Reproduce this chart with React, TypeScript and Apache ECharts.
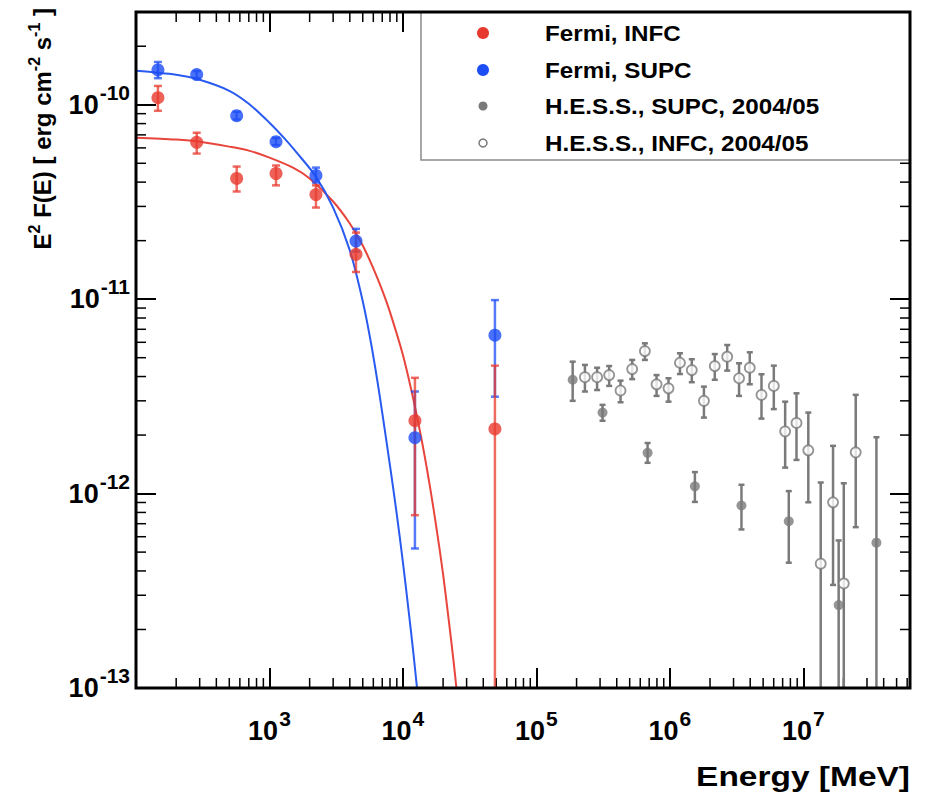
import React, { useEffect, useRef } from "react";
import * as echarts from "echarts";

// ---- axis ranges ----
const X_MIN = 100;
const X_MAX = 6.3e7;
const Y_MIN = 1e-13;
const Y_MAX = 3e-10;
const BELOW_AXIS = 1e-14; // lower error limit that runs down to the axis

// ---- minor tick definitions ----
const minorMultipliers = [2, 3, 4, 5, 6, 7, 8, 9];
const xMinorDecades = [1e2, 1e3, 1e4, 1e5, 1e6, 1e7];
const yMinorDecades = [1e-13, 1e-12, 1e-11, 1e-10];

// ---- Fermi data ----
const fermiE = [146, 285, 568, 1120, 2230, 4450, 12300, 48900];
const fermiInfcF = [1.087e-10, 6.41e-11, 4.18e-11, 4.43e-11, 3.45e-11, 1.7e-11, 2.37e-12, 2.15e-12];
const fermiInfcLo = [9.31e-11, 5.61e-11, 3.58e-11, 3.85e-11, 2.96e-11, 1.38e-11, 7.74e-13, BELOW_AXIS];
const fermiInfcHi = [1.25e-10, 7.18e-11, 4.81e-11, 4.87e-11, 3.85e-11, 2.2e-11, 3.94e-12, 4.55e-12];
const fermiSupcF = [1.51e-10, 1.43e-10, 8.78e-11, 6.46e-11, 4.33e-11, 1.99e-11, 1.94e-12, 6.53e-12];
const fermiSupcLo = [1.37e-10, 1.37e-10, 8.4e-11, 6.2e-11, 3.98e-11, 1.76e-11, 5.22e-13, 3.15e-12];
const fermiSupcHi = [1.66e-10, 1.49e-10, 9.2e-11, 6.75e-11, 4.75e-11, 2.3e-11, 3.35e-12, 9.89e-12];

// ---- fitted curves ----
const infcCurveE = [100, 200, 300, 500, 700, 1000, 1500, 2000, 3000, 4000, 5000, 6000, 7000, 8000, 10000, 12000, 14000, 16000, 18000, 20000, 22000, 24000, 25500];
const infcCurveF = [6.77e-11, 6.62e-11, 6.46e-11, 6.09e-11, 5.81e-11, 5.35e-11, 4.75e-11, 4.18e-11, 3.18e-11, 2.45e-11, 1.89e-11, 1.44e-11, 1.11e-11, 8.58e-12, 5.16e-12, 3.03e-12, 1.8e-12, 1.07e-12, 6.38e-13, 3.84e-13, 2.26e-13, 1.36e-13, 9.1e-14];
const supcCurveE = [100, 200, 300, 500, 700, 1000, 1300, 1600, 2200, 3000, 4000, 5000, 5800, 6700, 8000, 9000, 10000, 11000, 12000, 13000];
const supcCurveF = [1.494e-10, 1.425e-10, 1.344e-10, 1.18e-10, 1.012e-10, 8.08e-11, 6.69e-11, 5.67e-11, 4.32e-11, 2.96e-11, 1.783e-11, 9.76e-12, 5.81e-12, 3.18e-12, 1.392e-12, 7.8e-13, 4.43e-13, 2.54e-13, 1.494e-13, 8.78e-14];

// ---- H.E.S.S. SUPC (filled) ----
const hessSupcE = [1.87e5, 3.13e5, 6.81e5, 1.54e6, 3.44e6, 7.78e6, 1.84e7, 3.53e7];
const hessSupcF = [3.85e-12, 2.61e-12, 1.62e-12, 1.09e-12, 8.68e-13, 7.21e-13, 2.67e-13, 5.59e-13];
const hessSupcLo = [3.0e-12, 2.37e-12, 1.44e-12, 9.06e-13, 6.54e-13, 4.41e-13, BELOW_AXIS, BELOW_AXIS];
const hessSupcHi = [4.77e-12, 2.86e-12, 1.82e-12, 1.29e-12, 1.11e-12, 1.03e-12, 5.74e-13, 1.95e-12];

// ---- H.E.S.S. INFC (open) ----
const hessInfcE = [2.31e5, 2.85e5, 3.51e5, 4.27e5, 5.22e5, 6.5e5, 7.95e5, 9.77e5, 1.19e6, 1.46e6, 1.8e6, 2.17e6, 2.69e6, 3.3e6, 3.97e6, 4.86e6, 6.01e6, 7.31e6, 8.89e6, 1.09e7, 1.35e7, 1.67e7, 2.01e7, 2.47e7];
const hessInfcF = [3.97e-12, 3.97e-12, 4.07e-12, 3.39e-12, 4.37e-12, 5.41e-12, 3.65e-12, 3.48e-12, 4.71e-12, 4.32e-12, 3.0e-12, 4.53e-12, 5.06e-12, 3.92e-12, 4.44e-12, 3.22e-12, 3.58e-12, 2.09e-12, 2.31e-12, 1.67e-12, 4.36e-13, 9.02e-13, 3.45e-13, 1.63e-12];
const hessInfcLo = [3.35e-12, 3.41e-12, 3.58e-12, 2.95e-12, 3.88e-12, 4.87e-12, 3.18e-12, 2.97e-12, 4.12e-12, 3.74e-12, 2.46e-12, 3.85e-12, 4.29e-12, 3.18e-12, 3.65e-12, 2.43e-12, 2.72e-12, 1.36e-12, 1.49e-12, 9.02e-13, BELOW_AXIS, 3.39e-13, BELOW_AXIS, 6.72e-13];
const hessInfcHi = [4.59e-12, 4.44e-12, 4.53e-12, 3.81e-12, 4.87e-12, 5.93e-12, 4.07e-12, 3.92e-12, 5.27e-12, 4.91e-12, 3.55e-12, 5.22e-12, 5.81e-12, 4.68e-12, 5.33e-12, 4.11e-12, 4.55e-12, 2.97e-12, 3.28e-12, 2.61e-12, 1.14e-12, 1.76e-12, 1.13e-12, 3.22e-12];

// ---- legend ----
const legendLabels = ["Fermi, INFC", "Fermi, SUPC", "H.E.S.S., SUPC, 2004/05", "H.E.S.S., INFC, 2004/05"];

const RED = "#e8392e";
const BLUE = "#1d4ef5";
const FONT = "Liberation Sans, Arial, Helvetica, sans-serif";

function minorTicks(decades: number[], lo: number, hi: number) {
  const out: number[] = [];
  decades.forEach((d) => minorMultipliers.forEach((m) => {
    const v = m * d;
    if (v > lo * 1.0001 && v < hi * 0.9999) out.push(v);
  }));
  return out;
}

function errorBars(E: number[], F: number[], lo: number[], hi: number[], color: string, width: number, cap: number, z: number) {
  return {
    type: "custom",
    xAxisIndex: 0,
    yAxisIndex: 0,
    z,
    silent: true,
    encode: { x: 0, y: 1 },
    data: E.map((e, i) => [e, F[i], lo[i], hi[i]]),
    renderItem: (params: any, api: any) => {
      const cs = params.coordSys;
      const bottom = cs.y + cs.height;
      const top = cs.y;
      const x = api.value(0);
      const pHi = api.coord([x, api.value(3)]);
      const pLo = api.coord([x, api.value(2)]);
      const px = pHi[0];
      let yHi = pHi[1];
      let yLo = pLo[1];
      let capLo = true;
      let capHi = true;
      if (yLo > bottom) { yLo = bottom; capLo = false; }
      if (yHi < top) { yHi = top; capHi = false; }
      const style = { stroke: color, lineWidth: width };
      const children: any[] = [{ type: "line", shape: { x1: px, y1: yHi, x2: px, y2: yLo }, style }];
      if (capHi) children.push({ type: "line", shape: { x1: px - cap, y1: yHi, x2: px + cap, y2: yHi }, style });
      if (capLo) children.push({ type: "line", shape: { x1: px - cap, y1: yLo, x2: px + cap, y2: yLo }, style });
      return { type: "group", children };
    },
  };
}

const labelRich = {
  b: { fontSize: 27, fontWeight: "bold", fontFamily: FONT, color: "#000" },
  s: { fontSize: 21, fontWeight: "bold", fontFamily: FONT, color: "#000", padding: [0, 0, 25, 1] },
};

const titleRich = {
  b: { fontSize: 24, fontWeight: "bold", fontFamily: FONT, fill: "#000" },
  s: { fontSize: 16, fontWeight: "bold", fontFamily: FONT, fill: "#000", padding: [0, 0, 16, 0] },
};

export default function App() {
  const ref = useRef<HTMLDivElement>(null);

  useEffect(() => {
    if (!ref.current) return;
    const chart = echarts.init(ref.current, undefined, { renderer: "svg" });

    const xMinor = minorTicks(xMinorDecades, X_MIN, X_MAX);
    const yMinor = minorTicks(yMinorDecades, Y_MIN, Y_MAX);

    const tickStyle = { color: "#000", width: 2 };
    const logFmt = (v: number) => `{b|10}{s|${Math.round(Math.log10(v))}}`;

    const gridL = 136, gridT = 12, gridW = 774, gridH = 676;

    const option: any = {
      animation: false,
      backgroundColor: "#fff",
      grid: { left: gridL, top: gridT, width: gridW, height: gridH, show: false },
      xAxis: [
        {
          type: "log", logBase: 10, min: X_MIN, max: X_MAX, position: "bottom",
          axisLine: { show: false }, splitLine: { show: false },
          axisTick: { inside: true, length: 20, lineStyle: tickStyle },
          axisLabel: { showMinLabel: false, showMaxLabel: false, margin: 20, formatter: logFmt, rich: labelRich },
        },
        {
          type: "log", logBase: 10, min: X_MIN, max: X_MAX, position: "top",
          axisLine: { show: false }, splitLine: { show: false },
          axisTick: { inside: true, length: 20, lineStyle: tickStyle },
          axisLabel: { show: false },
        },
      ],
      yAxis: [
        {
          type: "log", logBase: 10, min: Y_MIN, max: Y_MAX, position: "left",
          axisLine: { show: false }, splitLine: { show: false },
          axisTick: { inside: true, length: 20, lineStyle: tickStyle },
          axisLabel: { showMinLabel: true, showMaxLabel: false, margin: 6, formatter: logFmt, rich: labelRich },
        },
        {
          type: "log", logBase: 10, min: Y_MIN, max: Y_MAX, position: "right",
          axisLine: { show: false }, splitLine: { show: false },
          axisTick: { inside: true, length: 20, lineStyle: tickStyle },
          axisLabel: { show: false },
        },
      ],
      series: [
        {
          type: "custom", z: 1, silent: true,
          data: xMinor.map((v) => [v, Y_MIN]),
          encode: { x: 0, y: 1 },
          renderItem: (params: any, api: any) => {
            const cs = params.coordSys;
            const p = api.coord([api.value(0), Y_MIN]);
            const st = { stroke: "#000", lineWidth: 1.5 };
            return {
              type: "group", children: [
                { type: "line", shape: { x1: p[0], y1: cs.y + cs.height, x2: p[0], y2: cs.y + cs.height - 10 }, style: st },
                { type: "line", shape: { x1: p[0], y1: cs.y, x2: p[0], y2: cs.y + 10 }, style: st },
              ],
            };
          },
        },
        {
          type: "custom", z: 1, silent: true,
          data: yMinor.map((v) => [X_MIN, v]),
          encode: { x: 0, y: 1 },
          renderItem: (params: any, api: any) => {
            const cs = params.coordSys;
            const p = api.coord([X_MIN, api.value(1)]);
            const st = { stroke: "#000", lineWidth: 1.5 };
            return {
              type: "group", children: [
                { type: "line", shape: { x1: cs.x, y1: p[1], x2: cs.x + 10, y2: p[1] }, style: st },
                { type: "line", shape: { x1: cs.x + cs.width, y1: p[1], x2: cs.x + cs.width - 10, y2: p[1] }, style: st },
              ],
            };
          },
        },
        {
          type: "line", z: 2, silent: true, smooth: 0.3, showSymbol: false, symbol: "none",
          data: infcCurveE.map((e, i) => [e, infcCurveF[i]]),
          lineStyle: { color: "#e8453c", width: 2 },
        },
        {
          type: "line", z: 2, silent: true, smooth: 0.3, showSymbol: false, symbol: "none",
          data: supcCurveE.map((e, i) => [e, supcCurveF[i]]),
          lineStyle: { color: "#2a5bf0", width: 2 },
        },
        errorBars(fermiE, fermiSupcF, fermiSupcLo, fermiSupcHi, "rgba(29,78,245,0.75)", 2.5, 4, 3),
        errorBars(fermiE, fermiInfcF, fermiInfcLo, fermiInfcHi, "rgba(232,57,46,0.75)", 2.5, 4, 3),
        errorBars(hessSupcE, hessSupcF, hessSupcLo, hessSupcHi, "#7a7a7a", 2.5, 3, 3),
        errorBars(hessInfcE, hessInfcF, hessInfcLo, hessInfcHi, "#7a7a7a", 2.5, 3, 3),
        {
          type: "scatter", z: 4, silent: true, symbol: "circle", symbolSize: 10,
          data: hessSupcE.map((e, i) => [e, hessSupcF[i]]),
          itemStyle: { color: "#7a7a7a" },
        },
        {
          type: "scatter", z: 4, silent: true, symbol: "circle", symbolSize: 10,
          data: hessInfcE.map((e, i) => [e, hessInfcF[i]]),
          itemStyle: { color: "#fff", borderColor: "#7a7a7a", borderWidth: 1.8 },
        },
        {
          type: "scatter", z: 5, silent: true, symbol: "circle", symbolSize: 13,
          data: fermiE.map((e, i) => [e, fermiSupcF[i]]),
          itemStyle: { color: BLUE },
        },
        {
          type: "scatter", z: 5, silent: true, symbol: "circle", symbolSize: 13,
          data: fermiE.map((e, i) => [e, fermiInfcF[i]]),
          itemStyle: { color: RED },
        },
      ],
      graphic: [
        // legend box
        { type: "rect", z: 50, silent: true, shape: { x: 421, y: 12, width: 489, height: 148 }, style: { fill: "#fff", stroke: "#8a8a8a", lineWidth: 1.5 } },
        { type: "circle", z: 51, silent: true, shape: { cx: 483, cy: 33, r: 6 }, style: { fill: RED } },
        { type: "circle", z: 51, silent: true, shape: { cx: 483, cy: 70, r: 6 }, style: { fill: BLUE } },
        { type: "circle", z: 51, silent: true, shape: { cx: 483, cy: 106, r: 4.5 }, style: { fill: "#7a7a7a" } },
        { type: "circle", z: 51, silent: true, shape: { cx: 483, cy: 143, r: 4 }, style: { fill: "#fff", stroke: "#7a7a7a", lineWidth: 1.5 } },
        ...legendLabels.map((t, i) => ({
          type: "text", z: 51, silent: true, x: 545, y: [33, 70, 106, 143][i], scaleX: 1.1,
          style: { text: t, fontSize: 22, fontWeight: "bold", fontFamily: FONT, fill: "#000", align: "left", verticalAlign: "middle" },
        })),
        // frame
        { type: "rect", z: 60, silent: true, shape: { x: gridL, y: gridT, width: gridW, height: gridH }, style: { fill: "none", stroke: "#000", lineWidth: 3 } },
        // axis titles
        {
          type: "text", z: 60, silent: true, x: 910, y: 776, scaleX: 1.24,
          style: { text: "Energy [MeV]", fontSize: 27, fontWeight: "bold", fontFamily: FONT, fill: "#000", align: "right", verticalAlign: "middle" },
        },
        {
          type: "text", z: 60, silent: true, x: 42, y: 8, rotation: Math.PI / 2,
          style: {
            text: "{b|E}{s|2}{b| F(E) [ erg cm}{s|-2}{b| s}{s|-1}{b| ]}",
            rich: titleRich, align: "right", verticalAlign: "middle", fontFamily: FONT, fontWeight: "bold", fontSize: 24,
          },
        },
      ],
    };

    chart.setOption(option);
    return () => chart.dispose();
  }, []);

  return <div ref={ref} style={{ position: "absolute", left: 0, top: 0, width: 927, height: 798, background: "#fff" }} />;
}
